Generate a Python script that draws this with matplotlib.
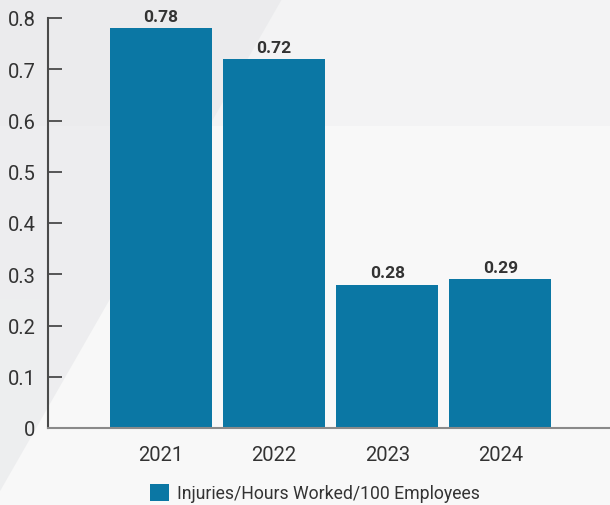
import matplotlib
matplotlib.use("Agg")
import matplotlib.pyplot as plt
from matplotlib.patches import Polygon, Rectangle

years = ["2021", "2022", "2023", "2024"]
rates = [0.78, 0.72, 0.28, 0.29]
value_labels = ["0.78", "0.72", "0.28", "0.29"]
y_ticks = [0, 0.1, 0.2, 0.3, 0.4, 0.5, 0.6, 0.7, 0.8]
y_tick_labels = ["0", "0.1", "0.2", "0.3", "0.4", "0.5", "0.6", "0.7", "0.8"]
series_name = "Injuries/Hours Worked/100 Employees"

plt.rcParams["font.family"] = ["Roboto", "DejaVu Sans"]

W, H = 610, 506
fig = plt.figure(figsize=(W / 100, H / 100), dpi=100, facecolor="#f8f8f8")

# background decoration layer, in pixel units with y pointing down
bg = fig.add_axes([0, 0, 1, 1], zorder=0)
bg.set_xlim(0, W)
bg.set_ylim(H, 0)
bg.axis("off")
bg.add_patch(Rectangle((0, 0), W, 127, facecolor="#f3f3f4", edgecolor="none"))
bg.add_patch(Polygon([(0, 0), (282, 0), (0, 492)], closed=True,
                     facecolor="#e6e7e9", edgecolor="none", alpha=0.6))
bg.add_patch(Polygon([(0, 300), (0, 492), (40, 422), (40, 300)], closed=True,
                     facecolor="#eeeff0", edgecolor="none", alpha=0.5))

ax = fig.add_axes([48 / W, (H - 429) / H, 562 / W, 410 / H], zorder=1)
ax.set_facecolor("none")

x = list(range(len(years)))
bars = ax.bar(x, rates, width=0.9, color="#0b77a4", zorder=2)
ax.bar_label(bars, labels=value_labels, padding=3, fontsize=12.5,
             fontweight="bold", color="#333333")

ax.set_xlim(-1.0, 3.97)
ax.set_ylim(0, 0.8)
ax.set_yticks(y_ticks)
ax.set_yticklabels(y_tick_labels)
ax.set_xticks(x)
ax.set_xticklabels(years)

ax.tick_params(axis="y", direction="in", length=10, width=1.3, color="#4a4a4a",
               labelsize=14.5, labelcolor="#333333", pad=9)
ax.tick_params(axis="x", length=0, labelsize=14.5, labelcolor="#333333", pad=12)

for side in ("top", "right"):
    ax.spines[side].set_visible(False)
ax.spines["left"].set_color("#4a4a4a")
ax.spines["left"].set_linewidth(1.5)
ax.spines["bottom"].set_color("#8a8a8a")
ax.spines["bottom"].set_linewidth(1.5)

leg = fig.legend([bars], [series_name], loc="center", bbox_to_anchor=(315 / W, 1 - 494 / H),
                 frameon=False, fontsize=12.7, handlelength=1.1, handleheight=1.1,
                 handletextpad=0.45, labelcolor="#333333")
leg.set_zorder(2)

fig.savefig("out.png", dpi=100, facecolor=fig.get_facecolor())
